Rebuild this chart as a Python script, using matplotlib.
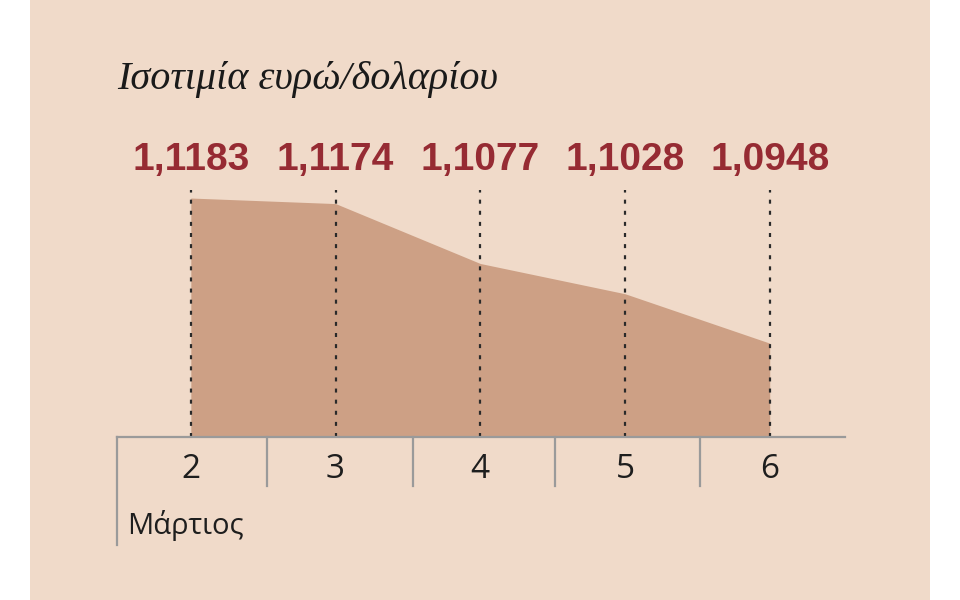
import matplotlib
matplotlib.use("Agg")
import matplotlib.pyplot as plt
from matplotlib.patches import Rectangle

# data
days = [2, 3, 4, 5, 6]
rates = [1.1183, 1.1174, 1.1077, 1.1028, 1.0948]
rate_labels = ["1,1183", "1,1174", "1,1077", "1,1028", "1,0948"]
title = "Ισοτιμία ευρώ/δολαρίου"
month = "Μάρτιος"

bg = "#f0dac9"
fill_c = "#cda085"
red = "#962b33"
grey = "#9a9a9a"

fig = plt.figure(figsize=(9.6, 6), dpi=100)
fig.patch.set_facecolor("white")
# peach panel
fig.add_artist(Rectangle((30 / 960, 0), 900 / 960, 1, transform=fig.transFigure,
                         facecolor=bg, edgecolor="none", zorder=0))

ax = fig.add_axes([117 / 960, 163 / 600, 728 / 960, 247 / 600])
ax.set_facecolor("none")
ax.set_xlim(1.49, 6.52)
ax.set_ylim(1.0796, 1.1196)

ax.fill_between(days, rates, 1.0796, color=fill_c, lw=0, zorder=1)
for d in days:
    ax.plot([d, d], [1.0796, 1.1196], color="#2a2a2a", lw=1.6,
            ls=(0, (1.8, 3.2)), zorder=2, clip_on=False)

for s in ["top", "right", "left"]:
    ax.spines[s].set_visible(False)
ax.spines["bottom"].set_color(grey)
ax.spines["bottom"].set_linewidth(1.6)
ax.spines["bottom"].set_zorder(3)
ax.set_xticks([])
ax.set_yticks([])

# separators under the axis
tr = ax.get_xaxis_transform()
ax.plot([1.49, 1.49], [0, -0.437], color=grey, lw=1.6, transform=tr, clip_on=False)
for sx in [2.525, 3.533, 4.515, 5.517]:
    ax.plot([sx, sx], [0, -0.198], color=grey, lw=1.6, transform=tr, clip_on=False)

for d, lab in zip(days, rate_labels):
    ax.text(d, 1.121, lab, transform=tr, ha="center", va="center",
            fontsize=28, fontweight="bold", color=red, family="Liberation Sans")
    ax.text(d, -0.133, str(d), transform=tr, ha="center", va="center",
            fontsize=24, color="#1e1e1e", family="Open Sans")

ax.text(1.56, -0.36, month, transform=tr, ha="left", va="center",
        fontsize=21, color="#1e1e1e", family="Open Sans")

fig.text(117 / 960, 1 - 80 / 600, title, ha="left", va="center", fontsize=29,
         style="italic", color="#1a1a1a", family="Liberation Serif")

fig.savefig("out.png", dpi=100, facecolor=fig.get_facecolor())
